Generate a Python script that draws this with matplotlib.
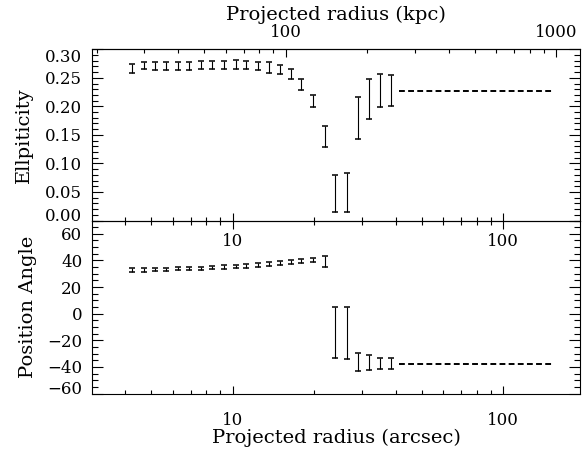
import matplotlib
matplotlib.use('Agg')
import matplotlib.pyplot as plt
from matplotlib.ticker import LogLocator, NullFormatter, FuncFormatter, FixedLocator, MultipleLocator, FormatStrFormatter

# Projected radius of each isophote (arcsec)
radius = [4.26, 4.70, 5.15, 5.69, 6.28, 6.90, 7.62, 8.41, 9.29, 10.26, 11.23, 12.40,
          13.61, 14.91, 16.36, 17.92, 19.79, 21.86, 23.98, 26.4, 29.0, 31.8, 35.1, 38.5]

# Ellipticity and its error
ellip = [0.266, 0.2716, 0.271, 0.2705, 0.2705, 0.2705, 0.2725, 0.2725, 0.2725, 0.273, 0.2725, 0.271,
         0.268, 0.2646, 0.2562, 0.238, 0.2097, 0.1474, 0.0476, 0.0485, 0.179, 0.2124, 0.2278, 0.2278]
ellip_err = [0.0081, 0.0067, 0.0073, 0.0067, 0.0067, 0.0067, 0.0075, 0.0075, 0.0075, 0.0082, 0.0075, 0.0073,
             0.0091, 0.0079, 0.0088, 0.0094, 0.0103, 0.0182, 0.0322, 0.0342, 0.0368, 0.035, 0.0284, 0.0272]

# Position angle and its error
pa = [32.8, 32.8, 33.0, 33.3, 33.8, 33.8, 34.1, 34.5, 35.1, 35.3, 36.0, 36.6,
      37.1, 37.8, 38.6, 39.3, 40.1, 39.3, -14.1, -14.4, -36.3, -36.7, -37.4, -37.4]
pa_err = [1.3, 1.3, 1.3, 1.3, 1.3, 1.3, 1.3, 1.3, 1.3, 1.3, 1.4, 1.4,
          1.4, 1.4, 1.5, 1.5, 1.5, 4.0, 18.9, 19.6, 6.5, 5.6, 4.4, 4.4]

# adopted outer values (dashed lines)
fit_radius = [41.3, 151.8]
fit_ellip = [0.2274, 0.2274]
fit_pa = [-37.8, -37.8]

kpc_per_arcsec = 6.37
kpc_ticks = [100, 1000]
ellip_ticks = [0.0, 0.05, 0.10, 0.15, 0.20, 0.25, 0.30]
pa_ticks = [-60, -40, -20, 0, 20, 40, 60]

plt.rcParams['font.family'] = 'DejaVu Serif'
plt.rcParams['font.size'] = 12
plt.rcParams['axes.linewidth'] = 0.8

fig = plt.figure(figsize=(5.84, 4.49), dpi=100)
ax1 = fig.add_axes([0.1575, 0.5089, 0.8356, 0.3813])
ax2 = fig.add_axes([0.1575, 0.1236, 0.8356, 0.3853])
ax2.patch.set_visible(False)

eb = dict(fmt='none', ecolor='black', elinewidth=0.8, capsize=2.4, capthick=1.1)
ax1.errorbar(radius, ellip, yerr=ellip_err, **eb)
ax1.plot(fit_radius, fit_ellip, color='black', lw=1.4, dashes=(3, 1.7))
ax2.errorbar(radius, pa, yerr=pa_err, **eb)
ax2.plot(fit_radius, fit_pa, color='black', lw=1.4, dashes=(3, 1.7))

lab = FuncFormatter(lambda v, p: f'{v:g}')
for ax in (ax1, ax2):
    ax.set_xscale('log')
    ax.set_xlim(3.02, 192)
    ax.xaxis.set_major_locator(LogLocator(base=10))
    ax.xaxis.set_minor_locator(LogLocator(base=10, subs=range(2, 10)))
    ax.xaxis.set_major_formatter(lab)
    ax.xaxis.set_minor_formatter(NullFormatter())
    ax.tick_params(which='both', direction='in', right=True, width=0.8)
    ax.tick_params(axis='x', which='minor', length=3)
    ax.tick_params(axis='y', which='major', length=8, pad=7)
    ax.tick_params(axis='y', which='minor', length=4)

ax1.tick_params(axis='x', which='major', length=6, pad=9)
ax2.tick_params(axis='x', which='major', length=6, pad=13)
ax1.tick_params(axis='x', which='both', top=False)
ax2.tick_params(axis='x', which='both', top=True)

ax1.set_ylim(0, 0.30)
ax1.yaxis.set_major_locator(FixedLocator(ellip_ticks))
ax1.yaxis.set_minor_locator(MultipleLocator(0.01))
ax1.yaxis.set_major_formatter(FormatStrFormatter('%.2f'))
ax1.set_ylabel('Ellpiticity', fontsize=14, labelpad=9)

ax2.set_ylim(-60, 70)
ax2.yaxis.set_major_locator(FixedLocator(pa_ticks))
ax2.yaxis.set_minor_locator(MultipleLocator(5))
ax2.set_ylabel('Position Angle', fontsize=14, labelpad=7)
ax2.set_xlabel('Projected radius (arcsec)', fontsize=14, labelpad=0)

# labels sitting on the frame edge are nudged inward, as in the original
t1 = ax1.yaxis.get_major_ticks()
t1[0].label1.set_verticalalignment('baseline')
t1[-1].label1.set_verticalalignment('top')
t2 = ax2.yaxis.get_major_ticks()
t2[0].label1.set_verticalalignment('baseline')

top = ax1.secondary_xaxis('top', functions=(lambda x: x * kpc_per_arcsec, lambda x: x / kpc_per_arcsec))
top.xaxis.set_major_locator(FixedLocator(kpc_ticks))
top.xaxis.set_minor_locator(LogLocator(base=10, subs=range(2, 10)))
top.xaxis.set_major_formatter(lab)
top.xaxis.set_minor_formatter(NullFormatter())
top.tick_params(which='both', direction='in', width=0.8)
top.tick_params(which='major', length=6, pad=6)
top.tick_params(which='minor', length=3)
top.set_xlabel('Projected radius (kpc)', fontsize=14, labelpad=3)

fig.savefig('out.png', dpi=100)
